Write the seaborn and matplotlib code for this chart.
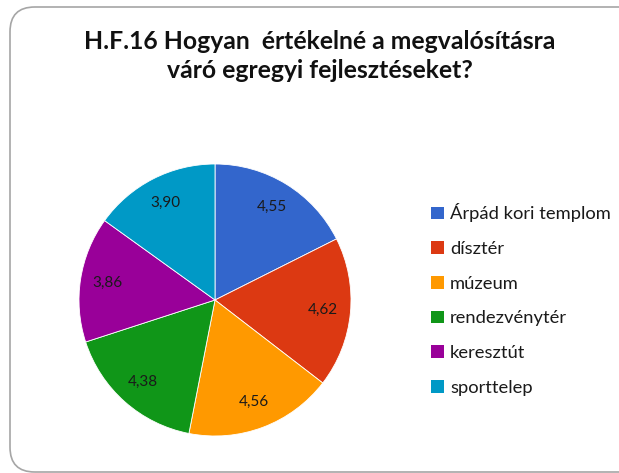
import matplotlib
matplotlib.use("Agg")
import matplotlib.pyplot as plt
import seaborn as sns
from matplotlib.patches import FancyBboxPatch, Patch

sns.set_theme(style="white")
plt.rcParams['font.family'] = ['Lato', 'DejaVu Sans']

title = "H.F.16 Hogyan  értékelné a megvalósításra\nváró egregyi fejlesztéseket?"
categories = ["Árpád kori templom", "dísztér", "múzeum", "rendezvénytér", "keresztút", "sporttelep"]
values = [4.55, 4.62, 4.56, 4.38, 3.86, 3.90]
labels = ["4,55", "4,62", "4,56", "4,38", "3,86", "3,90"]
colors = ["#3366CC", "#DC3912", "#FF9900", "#109618", "#990099", "#0099C6"]

W, H = 619, 473
fig = plt.figure(figsize=(W / 100, H / 100), dpi=100)
fig.patch.set_facecolor("white")

# frame
frame = FancyBboxPatch((10 / W, 1 - 472 / H), 700 / W, 465 / H,
                       boxstyle="round,pad=0,rounding_size=0.04",
                       transform=fig.transFigure, fill=False,
                       edgecolor="#A6A6A6", linewidth=1.2, clip_on=False,
                       mutation_aspect=W / H)
fig.patches.append(frame)

cx, cy, r = 215, 300, 136
ax = fig.add_axes([(cx - r) / W, 1 - (cy + r) / H, 2 * r / W, 2 * r / H])
wedges, texts = ax.pie(values, colors=colors, labels=labels, startangle=90,
                       counterclock=False, labeldistance=0.8,
                       wedgeprops=dict(linewidth=0.6, edgecolor="white"),
                       textprops=dict(fontsize=11, color="#1a1a1a"),
                       radius=1.0)
for t in texts:
    t.set_horizontalalignment("center")
    t.set_verticalalignment("center")
ax.set_xlim(-1, 1)
ax.set_ylim(-1, 1)
ax.set_aspect("equal")
ax.axis("off")

fig.text(320 / W, 1 - 56 / H, title, ha="center", va="center",
         fontsize=17.8, fontweight="bold", color="#111111", linespacing=1.3)

handles = [Patch(facecolor=c, edgecolor="none") for c in colors]
fig.legend(handles, categories, loc="upper left",
           bbox_to_anchor=(424 / W, 1 - 196 / H), frameon=False,
           fontsize=13.2, handlelength=0.68, handleheight=0.68,
           handletextpad=0.35, labelspacing=1.02, borderaxespad=0,
           labelcolor="#1a1a1a")

fig.savefig("out.png", dpi=100)
